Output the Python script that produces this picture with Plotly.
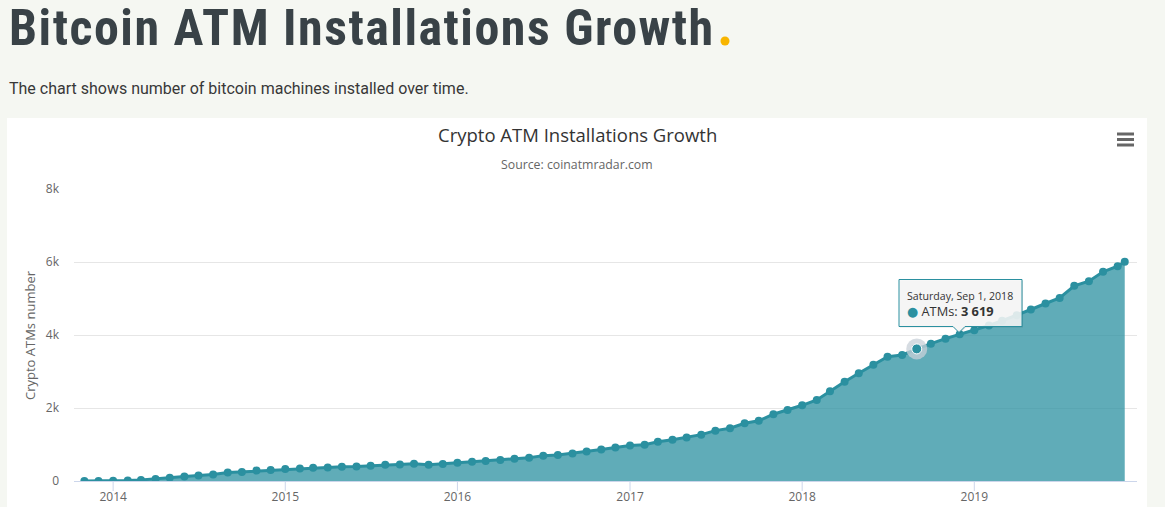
import pandas as pd
import plotly.graph_objects as go

# ---------------- data ----------------
dates = list(pd.date_range("2013-11-01", "2019-11-01", freq="MS").strftime("%Y-%m-%d")) + ["2019-11-16"]
atms = [
    0, 2,                                                         # 2013 Nov-Dec
    5, 12, 30, 55, 90, 120, 150, 175, 230, 250, 285, 300,         # 2014
    330, 340, 365, 370, 390, 400, 420, 445, 450, 475, 445, 465,   # 2015
    500, 530, 550, 575, 610, 640, 695, 710, 755, 805, 860, 915,   # 2016
    975, 995, 1075, 1130, 1195, 1270, 1380, 1445, 1580, 1650, 1830, 1945,  # 2017
    2074, 2219, 2458, 2721, 2951, 3187, 3406, 3452, 3619, 3763, 3900, 4018,  # 2018
    4128, 4260, 4390, 4540, 4699, 4863, 5017, 5346, 5475, 5730, 5886,       # 2019 Jan-Nov
    6006,                                                         # latest
]
year_ticks = ["2014-01-01", "2015-01-01", "2016-01-01", "2017-01-01", "2018-01-01", "2019-01-01"]
year_labels = ["2014", "2015", "2016", "2017", "2018", "2019"]
y_ticks = [0, 2000, 4000, 6000, 8000]
y_labels = ["0", "2k", "4k", "6k", "8k"]
hover_date = "2018-09-01"
hover_label = "Saturday, Sep 1, 2018"

page_title = "Bitcoin ATM Installations Growth"
page_text = "The chart shows number of bitcoin machines installed over time."
chart_title = "Crypto ATM Installations Growth"
chart_subtitle = "Source: coinatmradar.com"
y_title = "Crypto ATMs number"
series_name = "ATMs"

# ---------------- geometry helpers ----------------
W, H = 1165, 507
L, R, T, B = 74, 1137, 189, 481


def px(x):
    return (x - L) / (R - L)


def py(y):
    return (B - y) / (B - T)


LINE = "#2b90a0"
FILL = "rgba(43,144,160,0.75)"
PAGE_BG = "#f5f7f2"
CHART_FONT = "Open Sans, DejaVu Sans, sans-serif"

fig = go.Figure()
fig.add_trace(go.Scatter(
    x=dates, y=atms, name=series_name, mode="lines+markers",
    fill="tozeroy", fillcolor=FILL,
    line=dict(color=LINE, width=3),
    marker=dict(size=8, color=LINE),
    hoverinfo="skip", showlegend=False,
))

hi = dates.index(hover_date)
# halo + hovered marker
fig.add_trace(go.Scatter(
    x=[dates[hi]], y=[atms[hi]], mode="markers",
    marker=dict(size=21, color="rgba(200,208,216,0.75)"),
    hoverinfo="skip", showlegend=False,
))
fig.add_trace(go.Scatter(
    x=[dates[hi]], y=[atms[hi]], mode="markers",
    marker=dict(size=10, color=LINE, line=dict(color="#ffffff", width=1)),
    hoverinfo="skip", showlegend=False,
))

shapes = []
# white card
shapes.append(dict(type="rect", xref="paper", yref="paper",
                   x0=px(7), x1=px(1147), y0=py(520), y1=py(118),
                   fillcolor="#ffffff", line=dict(width=0), layer="below"))
# heading dot
shapes.append(dict(type="circle", xref="paper", yref="paper",
                   x0=px(720.5), x1=px(729.5), y0=py(45.5), y1=py(36.5),
                   fillcolor="#f8b500", line=dict(width=0)))
# menu icon
for yy in (134, 139.5, 145):
    shapes.append(dict(type="line", xref="paper", yref="paper",
                       x0=px(1117), x1=px(1134), y0=py(yy), y1=py(yy),
                       line=dict(color="#666666", width=3)))
# x tick marks
for tv in year_ticks:
    shapes.append(dict(type="line", xref="x", yref="paper",
                       x0=tv, x1=tv, y0=0, y1=py(491),
                       line=dict(color="#ccd6eb", width=1)))

# tooltip callout
bx0, bx1, by0, by1 = 899, 1022, 279.5, 326.5
tipx, tipy = 959, 332.5
path = (f"M {px(bx0)},{py(by0)} L {px(bx1)},{py(by0)} L {px(bx1)},{py(by1)} "
        f"L {px(tipx + 6)},{py(by1)} L {px(tipx)},{py(tipy)} L {px(tipx - 6)},{py(by1)} "
        f"L {px(bx0)},{py(by1)} Z")
shadow = (f"M {px(bx0+1)},{py(by0+1)} L {px(bx1+1)},{py(by0+1)} L {px(bx1+1)},{py(by1+1)} "
          f"L {px(tipx + 7)},{py(by1+1)} L {px(tipx+1)},{py(tipy+1)} L {px(tipx - 5)},{py(by1+1)} "
          f"L {px(bx0+1)},{py(by1+1)} Z")
shapes.append(dict(type="path", xref="paper", yref="paper", path=shadow,
                   fillcolor="rgba(0,0,0,0.10)", line=dict(width=0)))
shapes.append(dict(type="path", xref="paper", yref="paper", path=path,
                   fillcolor="rgba(247,247,247,0.88)", line=dict(color=LINE, width=1)))

value_txt = f"{atms[hi]:,}".replace(",", " ")

annotations = [
    dict(text=f"<span style='letter-spacing:1.5px'><b>{page_title}</b></span>",
         xref="paper", yref="paper", x=px(7), y=py(28),
         xanchor="left", yanchor="middle", showarrow=False,
         font=dict(family="Liberation Sans Narrow, Roboto Condensed, Roboto, sans-serif", size=50, color="#394247")),
    dict(text=page_text, xref="paper", yref="paper", x=px(7), y=py(89),
         xanchor="left", yanchor="middle", showarrow=False,
         font=dict(family="Roboto, sans-serif", size=16, color="#383838")),
    dict(text=chart_title, xref="paper", yref="paper", x=px(577), y=py(135),
         xanchor="center", yanchor="middle", showarrow=False,
         font=dict(family=CHART_FONT, size=18.5, color="#333333")),
    dict(text=chart_subtitle, xref="paper", yref="paper", x=px(577), y=py(165),
         xanchor="center", yanchor="middle", showarrow=False,
         font=dict(family=CHART_FONT, size=12.3, color="#666666")),
    dict(text=y_title, xref="paper", yref="paper", x=px(30), y=py(335),
         xanchor="center", yanchor="middle", textangle=-90, showarrow=False,
         font=dict(family=CHART_FONT, size=13, color="#666666")),
    dict(text=hover_label, xref="paper", yref="paper", x=px(905), y=py(296),
         xanchor="left", yanchor="middle", showarrow=False,
         font=dict(family=CHART_FONT, size=10.6, color="#333333")),
    dict(text=f"<span style='color:{LINE}'>●</span> {series_name}: <b>{value_txt}</b>",
         xref="paper", yref="paper", x=px(905), y=py(311),
         xanchor="left", yanchor="middle", showarrow=False,
         font=dict(family=CHART_FONT, size=12.8, color="#333333")),
]

fig.update_layout(
    width=W, height=H, autosize=False,
    margin=dict(l=L, r=W - R, t=T, b=H - B, pad=0),
    paper_bgcolor=PAGE_BG, plot_bgcolor="rgba(0,0,0,0)",
    shapes=shapes, annotations=annotations, showlegend=False,
    xaxis=dict(type="date", range=["2013-10-10", "2019-12-12"],
               tickvals=year_ticks, ticktext=year_labels,
               showgrid=False, zeroline=False, showline=True,
               linecolor="#ccd6eb", linewidth=1, ticks="",
               ticklabelstandoff=5, automargin=False,
               tickfont=dict(family=CHART_FONT, size=12, color="#666666")),
    yaxis=dict(range=[0, 8000], tickvals=y_ticks, ticktext=y_labels,
               showgrid=True, gridcolor="#e6e6e6", gridwidth=1,
               zeroline=False, showline=False, ticks="",
               ticklabelstandoff=14, automargin=False,
               tickfont=dict(family=CHART_FONT, size=12, color="#666666")),
)

fig.write_html("out.html", config={"displayModeBar": False},
               post_script="document.body.style.margin='0';document.body.style.overflow='hidden';")
